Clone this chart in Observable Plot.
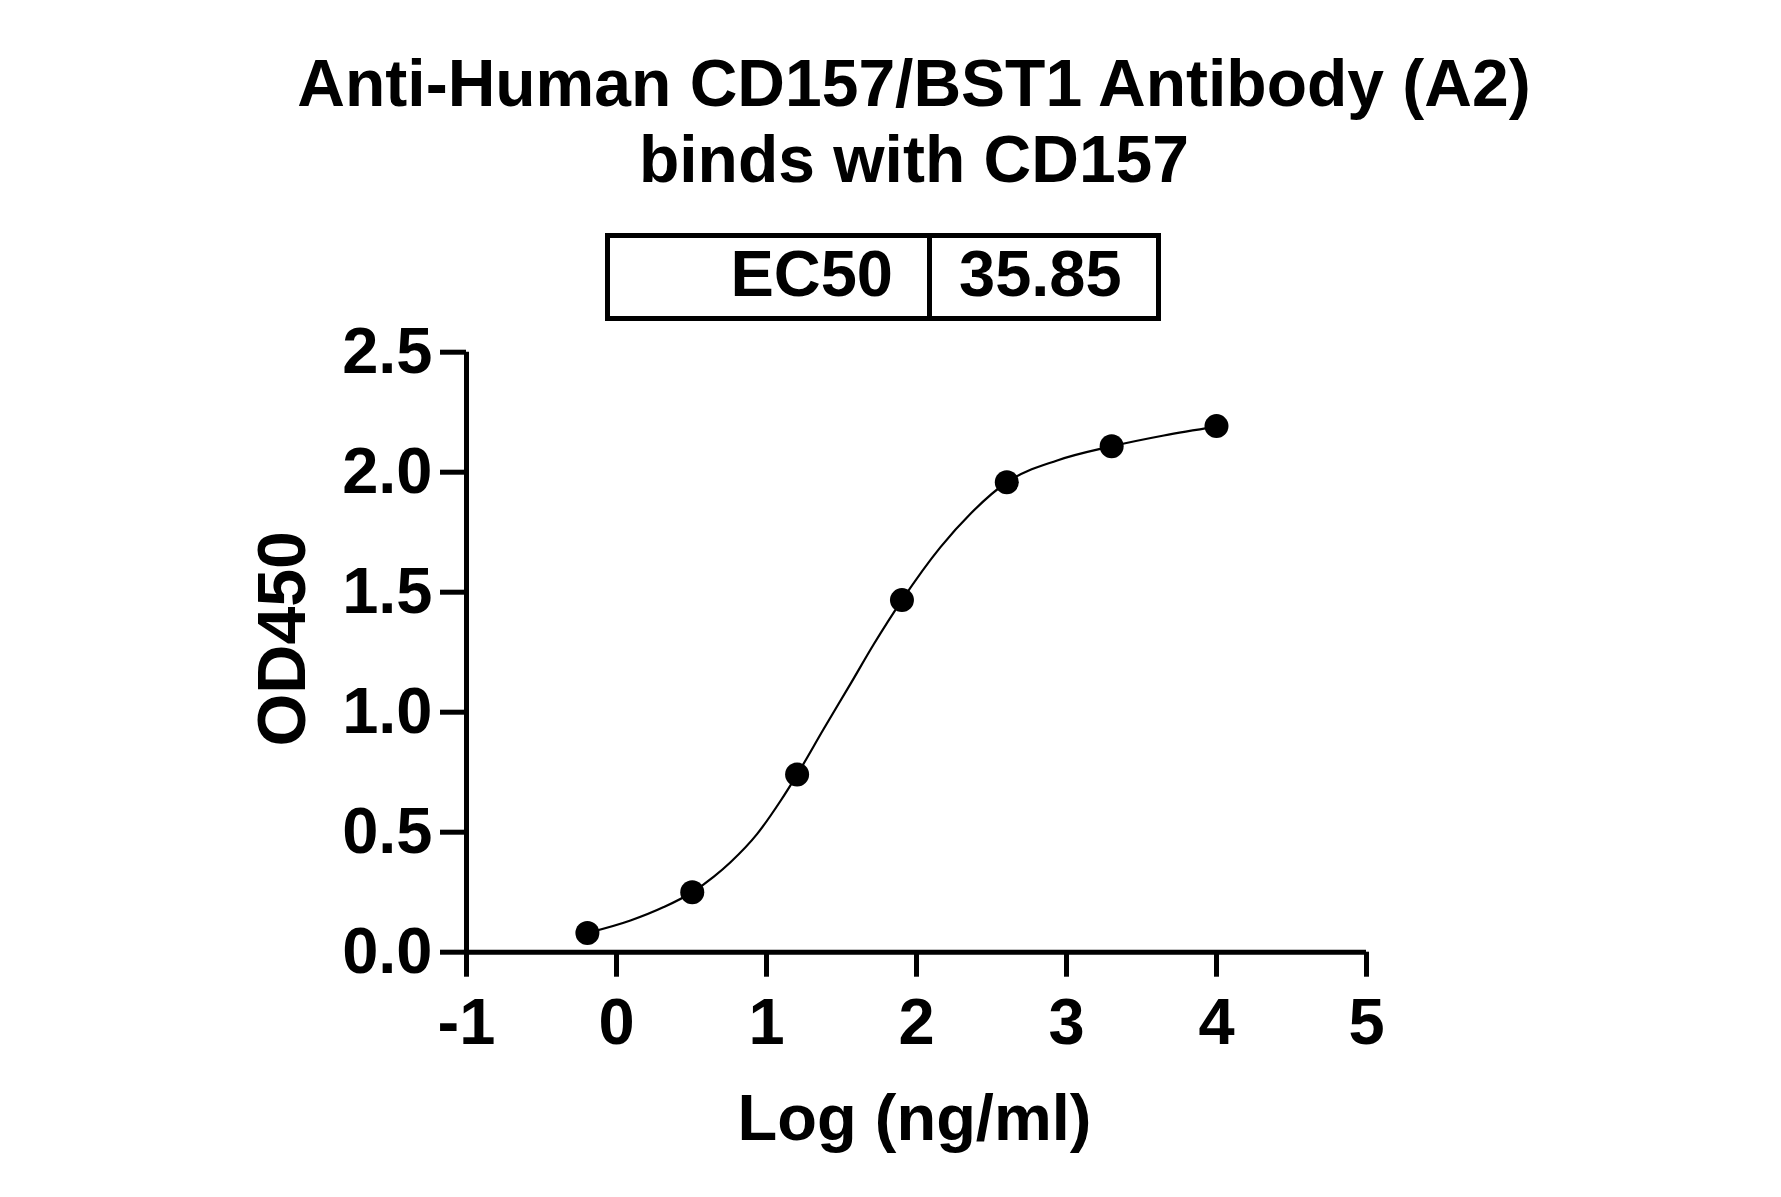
<!DOCTYPE html>
<html>
<head>
<meta charset="utf-8">
<script src="https://cdn.jsdelivr.net/npm/d3@7"></script>
<script src="https://cdn.jsdelivr.net/npm/@observablehq/plot@0.6"></script>
<style>
  html, body { margin: 0; padding: 0; background: #fff; }
  body { width: 1781px; height: 1197px; overflow: hidden; font-family: "Liberation Sans", Arial, sans-serif; font-weight: bold; color: #000; }
  #header { position: relative; width: 1781px; height: 330px; }
  #title { position: absolute; left: 214px; width: 1400px; top: 45px; text-align: center; font-size: 66px; line-height: 76px; }
  #ec50 { position: absolute; left: 605px; top: 233px; width: 556px; height: 88px; box-sizing: border-box; border: 5.5px solid #000; display: flex; font-size: 65px; line-height: 71px; }
  #ec50 .c1 { width: 317px; box-sizing: border-box; text-align: right; padding-right: 34px; }
  #ec50 .c2 { flex: 1; box-sizing: border-box; border-left: 5px solid #000; padding-left: 27px; }
  #chart svg { display: block; }
</style>
</head>
<body>
<div id="header">
  <div id="title">Anti-Human CD157/BST1 Antibody (A2)<br>binds with CD157</div>
  <div id="ec50"><div class="c1">EC50</div><div class="c2">35.85</div></div>
</div>
<div id="chart"></div>
<script>
// Measured points: log10 concentration (ng/ml) vs OD450
const logConc = [-0.194, 0.505, 1.204, 1.903, 2.602, 3.301, 4.0];
const od450 = [0.08, 0.25, 0.74, 1.467, 1.958, 2.108, 2.192];

// Fitted curve
const curveX = [-0.194, 0.093, 0.315, 0.505, 0.649, 0.76, 0.938, 1.093, 1.204, 1.382, 1.56, 1.717, 1.903, 2.16, 2.36, 2.602, 2.938, 3.301, 3.649, 4.0];
const curveY = [0.08, 0.132, 0.188, 0.25, 0.315, 0.375, 0.493, 0.63, 0.74, 0.931, 1.118, 1.285, 1.467, 1.688, 1.827, 1.958, 2.049, 2.108, 2.153, 2.19];

const xTicks = [-1, 0, 1, 2, 3, 4, 5];
const yTicks = [0, 0.5, 1.0, 1.5, 2.0, 2.5];
const xLabel = "Log (ng/ml)";
const yLabel = "OD450";

const points = logConc.map((x, i) => ({x, y: od450[i]}));
const curve = curveX.map((x, i) => ({x, y: curveY[i]}));

const chart = Plot.plot({
  width: 1781,
  height: 867,
  marginLeft: 466,
  marginRight: 415,
  marginTop: 21.7,
  marginBottom: 245.3,
  style: {fontFamily: "'Liberation Sans', Arial, sans-serif", fontWeight: "bold", fontSize: "65px", color: "#000", background: "#fff", overflow: "visible"},
  x: {domain: [-1, 5]},
  y: {domain: [0, 2.5]},
  marks: [
    Plot.axisX({ticks: xTicks, tickSize: 25, tickPadding: 21, strokeWidth: 5, tickFormat: d => d < 0 ? "-" + Math.abs(d) : String(d), label: null}),
    Plot.axisY({ticks: yTicks, tickSize: 26, tickPadding: 8, strokeWidth: 5, tickFormat: d3.format(".1f"), label: null}),
    Plot.ruleY([0], {strokeWidth: 5}),
    Plot.ruleX([-1], {strokeWidth: 5}),
    Plot.line(curve, {x: "x", y: "y", curve: "monotone-x", stroke: "#000", strokeWidth: 2.2}),
    Plot.dot(points, {x: "x", y: "y", r: 12, fill: "#000", stroke: "none"}),
    Plot.text([xLabel], {text: d => d, frameAnchor: "bottom", dx: -2, dy: 167, fontSize: 65, fontWeight: "bold", lineAnchor: "middle"}),
    Plot.text([yLabel], {text: d => d, frameAnchor: "left", textAnchor: "middle", rotate: -90, dx: -183.5, dy: -13.4, fontSize: 68, fontWeight: "bold", lineAnchor: "middle"})
  ]
});
document.getElementById("chart").appendChild(chart);
</script>
</body>
</html>
